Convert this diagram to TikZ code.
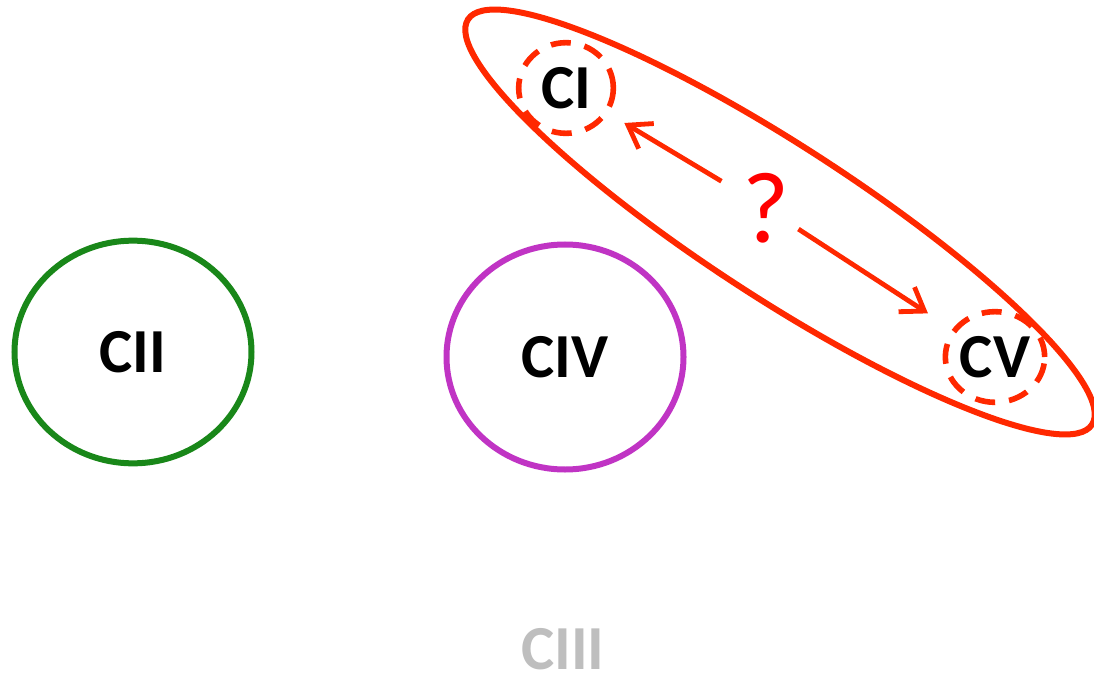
\documentclass[tikz,border=0pt]{standalone}
\usepackage{fontspec}
\setmainfont{Carlito}
\usepackage{tikz}
\usetikzlibrary{shapes}
\usetikzlibrary{arrows.meta}
\definecolor{rougeorange}{RGB}{255,40,0}
\definecolor{rougevif}{RGB}{255,0,0}
\definecolor{vertcii}{RGB}{25,135,25}
\definecolor{magentaciv}{RGB}{192,52,196}
\definecolor{grisciii}{RGB}{190,190,190}

\begin{document}
\begin{tikzpicture}[x=0.75pt,y=-0.75pt]
% définition des paramètres
\tikzstyle textecercle=[font=\fontsize{47}{50}\selectfont\bfseries,text=black,inner sep=0pt]
\tikzstyle cerclevert=[ellipse,draw=vertcii,line width=4.5pt,minimum width=177.75pt,minimum height=167pt,textecercle]
\tikzstyle cerclemagenta=[ellipse,draw=magentaciv,line width=4.5pt,minimum width=177.75pt,minimum height=168.75pt,textecercle]
\tikzstyle cerclepointille=[ellipse,draw=rougeorange,line width=4.2pt,dash pattern=on 15pt off 10.5pt,minimum width=71pt,minimum height=68pt,textecercle]
\tikzstyle ellipserouge=[ellipse,draw=rougeorange,line width=4.5pt,minimum width=558pt,minimum height=114pt,inner sep=0pt]
\tikzstyle flecherouge=[draw=rougeorange,line width=3.6pt,-{Straight Barb[length=16pt,width=22pt]}]
\tikzstyle interrogation=[font=\fontsize{76}{80}\selectfont,text=rougevif,inner sep=0pt]
\tikzstyle texteciii=[font=\fontsize{47}{50}\selectfont\bfseries,text=grisciii,inner sep=0pt]

% le cadre
\useasboundingbox (0,0) rectangle (1094,673);

% les cercles
\node[cerclevert] (cii) at (133,352) {CII};
\node[cerclemagenta] (civ) at (565,357) {CIV};
\node[cerclepointille] (ci) at (566,88) {CI};
\node[cerclepointille] (cv) at (995,357) {CV};

% le groupe
\node[ellipserouge,rotate=-33] (groupe) at (780,222) {};
\node[interrogation] (q) at (766,208) {?};

% les flèches
\draw[flecherouge,shorten <=39pt,shorten >=51pt] (q.center) -- (ci.center);
\draw[flecherouge,shorten <=29pt,shorten >=60pt] (q.center) -- (cv.center);

% en bas
\node[texteciii] (ciii) at (563,649) {CIII};
\end{tikzpicture}
\end{document}
